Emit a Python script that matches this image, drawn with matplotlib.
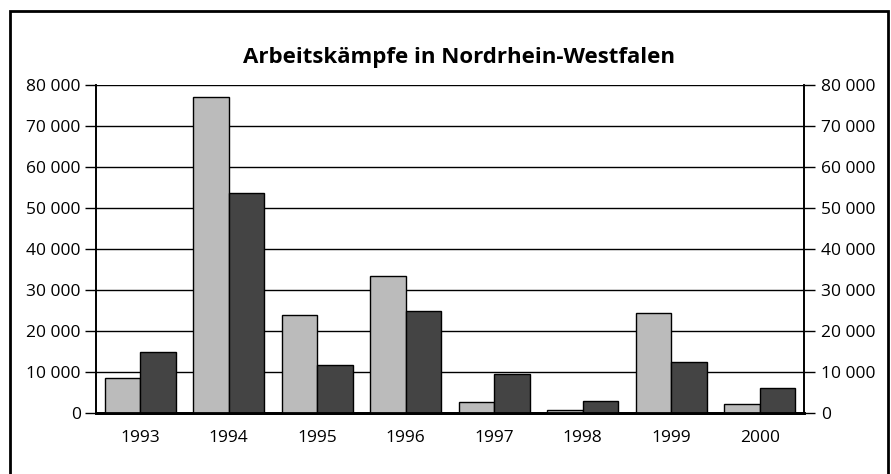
import numpy as np
import matplotlib.pyplot as plt
from matplotlib.patches import Rectangle

# Data
years = ["1993", "1994", "1995", "1996", "1997", "1998", "1999", "2000"]
series_light = [8500, 77000, 24000, 33500, 2600, 750, 24500, 2150]
series_dark = [14900, 53600, 11700, 24800, 9500, 2900, 12500, 6200]
y_ticks = [0, 10000, 20000, 30000, 40000, 50000, 60000, 70000, 80000]
y_tick_labels = ["0", "10 000", "20 000", "30 000", "40 000", "50 000", "60 000", "70 000", "80 000"]

plt.rcParams['font.family'] = ['Open Sans', 'DejaVu Sans']

W, H = 891, 474
fig = plt.figure(figsize=(W / 100, H / 100), dpi=100)
ax = fig.add_axes([96 / W, 1 - 413 / H, (804 - 96) / W, (413 - 85) / H])

x = np.arange(len(years))
bw = 0.4
ax.bar(x - bw / 2, series_light, bw, color="#bbbbbb", edgecolor="black", linewidth=1, zorder=3)
ax.bar(x + bw / 2, series_dark, bw, color="#444444", edgecolor="black", linewidth=1, zorder=3)

ax.set_xlim(-0.5, len(years) - 0.5)
ax.set_ylim(0, 80000)
ax.set_xticks(x)
ax.set_xticklabels(years, fontsize=12.5)
ax.tick_params(axis='x', length=0, pad=12)
ax.set_yticks(y_ticks)
ax.set_yticklabels(y_tick_labels, fontsize=12.5)
ax.tick_params(axis='y', length=8, width=1, color="black", pad=3)
ax.yaxis.grid(True, color="black", linewidth=1, zorder=0)
ax.set_axisbelow(True)

ax2 = ax.twinx()
ax2.set_ylim(0, 80000)
ax2.set_yticks(y_ticks)
ax2.set_yticklabels(y_tick_labels, fontsize=12.5)
ax2.tick_params(axis='y', length=8, width=1, color="black", pad=4)

for a in (ax, ax2):
    a.spines['top'].set_visible(False)
    a.spines['left'].set_linewidth(1.2)
    a.spines['right'].set_linewidth(1.2)
    a.spines['bottom'].set_linewidth(2)

fig.text(459 / W, 1 - 58 / H, "Arbeitskämpfe in Nordrhein-Westfalen",
         ha="center", va="center", fontsize=16, fontweight="bold")

# outer frame
fig.patches.append(Rectangle((10 / W, -0.05), (888 - 10) / W, 1 - 10.5 / H + 0.05,
                             transform=fig.transFigure, fill=False,
                             edgecolor="black", linewidth=2))

fig.savefig("out.png", dpi=100)
